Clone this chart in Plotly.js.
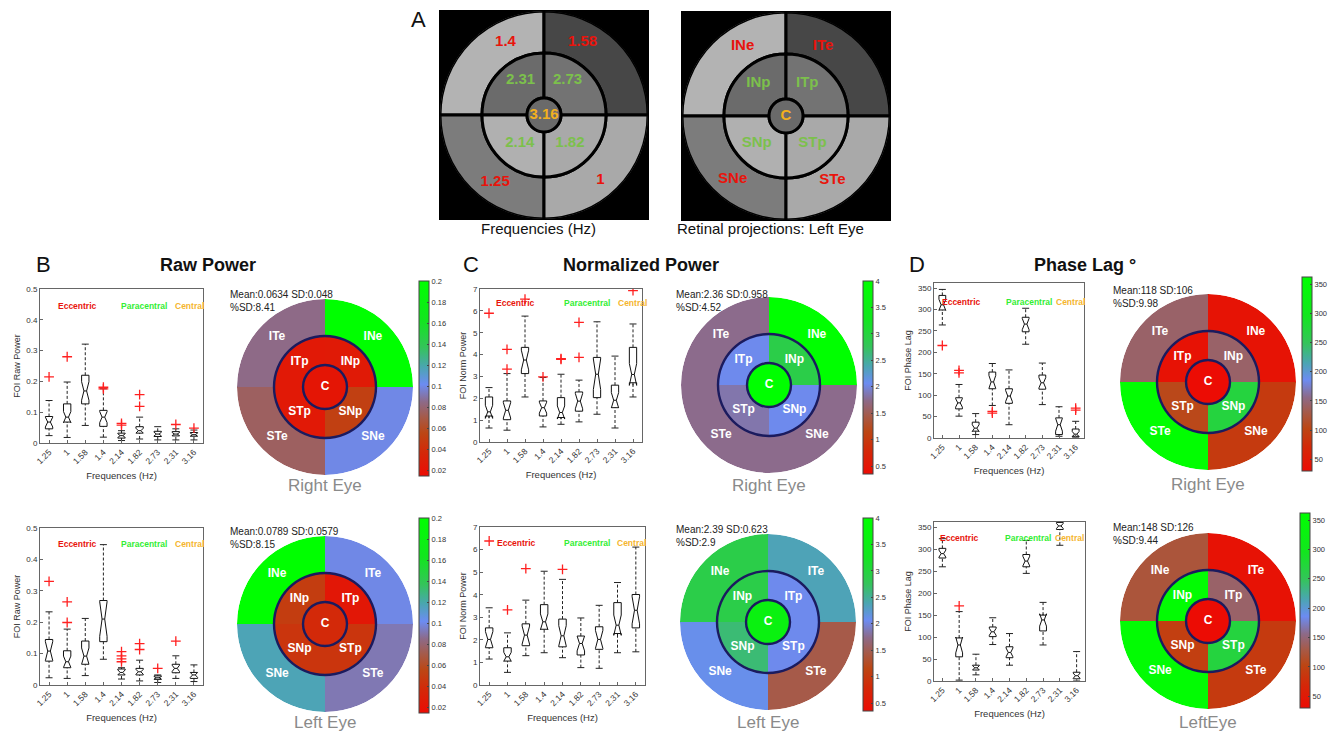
<!DOCTYPE html>
<html><head><meta charset="utf-8">
<script src="https://cdn.plot.ly/plotly-3.0.1.min.js"></script>
<style>html,body{margin:0;padding:0;background:#fff;}#chart{width:1338px;height:733px;}</style>
</head><body><div id="chart"></div>
<script>
// ---------------- DATA ----------------
const cats = ['1.25','1','1.58','1.4','2.14','1.82','2.73','2.31','3.16'];

// Raw power, right eye (top row)
const rawR_lo   = [0.024,0.018,0.057,0.019,0.008,0.013,0.010,0.010,0.010];
const rawR_q1   = [0.046,0.068,0.127,0.054,0.016,0.032,0.021,0.023,0.022];
const rawR_med  = [0.068,0.084,0.169,0.084,0.024,0.040,0.029,0.029,0.027];
const rawR_q3   = [0.086,0.127,0.220,0.106,0.032,0.053,0.038,0.037,0.034];
const rawR_hi   = [0.138,0.198,0.321,0.176,0.040,0.084,0.053,0.046,0.042];
const rawR_notch= [0.016,0.018,0.030,0.018,0.006,0.008,0.006,0.005,0.005];
const rawR_outX = ['1.25','1','1.4','1.4','2.14','2.14','1.82','1.82','2.31','3.16'];
const rawR_outY = [0.215,0.280,0.181,0.176,0.064,0.058,0.119,0.157,0.060,0.048];

// Raw power, left eye (bottom row)
const rawL_lo   = [0.023,0.021,0.030,0.082,0.019,0.013,0.008,0.021,0.011];
const rawL_q1   = [0.076,0.055,0.066,0.138,0.032,0.032,0.018,0.039,0.021];
const rawL_med  = [0.108,0.074,0.092,0.210,0.040,0.042,0.023,0.053,0.032];
const rawL_q3   = [0.145,0.109,0.140,0.269,0.051,0.053,0.029,0.066,0.040];
const rawL_hi   = [0.233,0.178,0.212,0.447,0.055,0.079,0.032,0.093,0.064];
const rawL_notch= [0.030,0.018,0.026,0.055,0.008,0.008,0.004,0.010,0.008];
const rawL_outX = ['1.25','1','1','2.14','2.14','2.14','2.14','1.82','1.82','2.73','2.31'];
const rawL_outY = [0.330,0.265,0.199,0.106,0.093,0.083,0.074,0.132,0.113,0.053,0.140];

// Normalized power, right eye
const normR_lo   = [0.64,0.54,2.06,0.69,0.81,0.92,1.27,0.64,2.06];
const normR_q1   = [1.19,1.02,3.13,1.19,1.12,1.41,2.03,1.57,2.71];
const normR_med  = [1.38,1.45,3.75,1.57,1.35,1.87,3.10,1.91,3.09];
const normR_q3   = [2.06,1.88,4.33,1.88,2.03,2.29,3.87,2.60,4.33];
const normR_hi   = [2.49,3.13,5.76,2.95,3.10,2.83,5.50,3.93,5.40];
const normR_notch= [0.30,0.35,0.45,0.25,0.30,0.35,0.70,0.35,0.50];
const normR_outX = ['1.25','1','1','1.58','1.4','2.14','2.14','1.82','1.82','3.16'];
const normR_outY = [5.89,4.24,3.33,6.54,2.98,3.78,3.81,3.87,5.47,6.93];

// Normalized power, left eye
const normL_lo   = [1.15,0.56,1.30,1.43,1.21,0.77,0.74,1.43,1.47];
const normL_q1   = [1.65,1.06,1.74,2.47,1.69,1.33,1.58,2.28,2.53];
const normL_med  = [2.02,1.25,2.21,2.80,2.18,1.84,2.02,2.65,3.31];
const normL_q3   = [2.53,1.65,2.71,3.56,2.92,2.17,2.58,3.65,4.01];
const normL_hi   = [3.42,2.31,3.76,5.04,4.68,2.97,3.53,4.54,6.11];
const normL_notch= [0.35,0.20,0.40,0.35,0.45,0.33,0.40,0.45,0.60];
const normL_outX = ['1.25','1','1.58','2.14'];
const normL_outY = [6.38,3.33,5.16,5.12];

// Phase lag, right eye
const phR_lo   = [264,51,8,76,31,219,78,4,2];
const phR_q1   = [299,68,16,115,81,248,114,8,4];
const phR_med  = [311,82,23,131,98,266,129,31,9];
const phR_q3   = [333,94,37,154,115,282,147,47,21];
const phR_hi   = [347,125,57,174,159,303,175,73,39];
const phR_notch= [13,10,8,15,13,13,12,15,6];
const phR_outX = ['1.25','1','1','1.4','1.4','3.16','3.16'];
const phR_outY = [216,158,152,58,62,70,65];

// Phase lag, left eye
const phL_lo   = [260,2,14,83,36,245,82,309,0];
const phL_q1   = [280,55,25,101,53,260,114,345,5];
const phL_med  = [290,82,30,112,65,273,139,353,12];
const phL_q3   = [302,98,36,123,78,288,150,361,20];
const phL_hi   = [324,158,61,144,108,320,179,368,67];
const phL_notch= [8,18,5,8,10,11,14,6,6];
const phL_outX = ['1'];
const phL_outY = [171];

// Sector maps: order = eccentric TL, TR, BL, BR, paracentral TL, TR, BL, BR, centre
const sectorsRight = ['ITe','INe','STe','SNe','ITp','INp','STp','SNp','C'];
const sectorsLeft  = ['INe','ITe','SNe','STe','INp','ITp','SNp','STp','C'];
const rawRightMap  = [0.085,0.200,0.076,0.100,0.025,0.026,0.025,0.052,0.022];
const rawLeftMap   = [0.200,0.100,0.117,0.092,0.050,0.024,0.045,0.045,0.038];
const normRightMap = [1.75,4.00,1.75,1.75,2.05,2.90,1.85,2.05,4.00];
const normLeftMap  = [2.90,2.36,2.10,1.45,2.90,2.05,2.65,2.05,3.60];
const phaseRightMap= [143,40,360,90,38,143,106,270,30];
const phaseLeftMap = [123,38,355,90,355,143,95,270,30];

// Panel A
const freqLabels  = ['1.4','1.58','1.25','1','2.31','2.73','2.14','1.82','3.16'];
const retinaLabels= ['INe','ITe','SNe','STe','INp','ITp','SNp','STp','C'];
const stimGrays   = ['#b3b3b3','#474747','#7c7c7c','#a9a9a9','#6b6b6b','#737373','#b0b0b0','#a9a9a9','#6a6a6a'];

// ---------------- HELPERS ----------------
const W=1338,H=733;
const X=p=>p/W, Y=p=>1-p/H;
const FONT='Liberation Sans, Arial, Helvetica, sans-serif';
const RED='#e8140c', GREEN='#33ee33', ORANGE='#f5b52e';
const CS=[[0,'#ec0c04'],[0.12,'#d42808'],[0.22,'#bc4614'],[0.30,'#a65a48'],[0.38,'#8d6a88'],[0.47,'#6c8cf2'],[0.56,'#4aa6b0'],[0.66,'#34c45a'],[0.80,'#12e61e'],[1,'#00ff00']];

const traces=[], annotations=[], shapes=[];
const layout={width:W,height:H,margin:{l:0,r:0,t:0,b:0},paper_bgcolor:'#fff',plot_bgcolor:'#fff',
  showlegend:false,font:{family:FONT,color:'#222'},boxgap:0.42};

function ann(text,px,py,size,opts){
  annotations.push(Object.assign({text:text,x:X(px),y:Y(py),xref:'paper',yref:'paper',showarrow:false,
    xanchor:'center',yanchor:'middle',font:{size:size,family:FONT,color:'#111'}},opts||{}));
}

function boxPanel(n,frame,yr,dtick,ytitle,s,outX,outY,lab){
  const sfx = n===1?'':String(n);
  const xr='x'+sfx, yrf='y'+sfx;
  const [lo,q1,med,q3,hi,notch]=s;
  // dashed whiskers (MATLAB style) built from the stats arrays
  const wx=[], wy=[];
  cats.forEach((c,i)=>{ wx.push(c,c,null,c,c,null); wy.push(q3[i],hi[i],null,lo[i],q1[i],null); });
  traces.push({type:'scatter',mode:'lines',x:wx,y:wy,xaxis:xr,yaxis:yrf,hoverinfo:'skip',
    line:{color:'#222',width:1,dash:'3px,2px'},connectgaps:false});
  // whisker caps
  traces.push({type:'scatter',mode:'markers',x:cats.concat(cats),y:hi.concat(lo),xaxis:xr,yaxis:yrf,hoverinfo:'skip',
    marker:{symbol:'line-ew',size:5,line:{color:'#222',width:1}}});
  // notched boxes
  traces.push({type:'box',x:cats,q1:q1,median:med,q3:q3,lowerfence:q1,upperfence:q3,notchspan:notch,
    notched:true,notchwidth:0.32,whiskerwidth:0,boxpoints:false,line:{color:'#111',width:1},
    fillcolor:'rgba(255,255,255,0)',xaxis:xr,yaxis:yrf,hoverinfo:'skip'});
  traces.push({type:'scatter',mode:'markers',x:outX,y:outY,xaxis:xr,yaxis:yrf,hoverinfo:'skip',
    marker:{symbol:'cross-thin',size:7,line:{color:'#ff2020',width:1.3}}});
  layout['xaxis'+sfx]={domain:[X(frame[0]),X(frame[1])],anchor:yrf,type:'category',categoryorder:'array',categoryarray:cats,
    range:[-0.5,8.5],tickangle:-45,tickfont:{size:8.5,color:'#333'},showline:true,mirror:true,linecolor:'#666',linewidth:1,
    ticks:'inside',ticklen:3,tickcolor:'#666',showgrid:false,zeroline:false,fixedrange:true,
    title:{text:'Frequences (Hz)',font:{size:9.5,color:'#333'},standoff:7}};
  layout['yaxis'+sfx]={domain:[Y(frame[3]),Y(frame[2])],anchor:xr,range:yr,tick0:0,dtick:dtick,
    tickfont:{size:8,color:'#333'},showline:true,mirror:true,linecolor:'#666',linewidth:1,ticks:'inside',ticklen:3,
    tickcolor:'#666',showgrid:false,zeroline:false,fixedrange:true,title:{text:ytitle,font:{size:9,color:'#333'},standoff:4}};
  const words=[['Eccentric',RED],['Paracentral',GREEN],['Central',ORANGE]];
  words.forEach((w,i)=>{
    annotations.push({text:w[0],x:lab[i],y:lab[3],xref:xr+' domain',yref:yrf+' domain',showarrow:false,
      xanchor:'center',yanchor:'middle',font:{size:8.5,family:FONT,color:w[1],weight:'bold'}});
  });
}

function heatPolar(n,center,values,labels,cmin,cmax,tickvals,cb){
  const R=88, rc=22, rp=51;
  const sub='polar'+(n===1?'':n);
  traces.push({type:'barpolar',subplot:sub,theta:[135,45,225,315,135,45,225,315,0],
    width:[90,90,90,90,90,90,90,90,360],base:[rp,rp,rp,rp,rc,rc,rc,rc,0],
    r:[R-rp,R-rp,R-rp,R-rp,rp-rc,rp-rc,rp-rc,rp-rc,rc],hoverinfo:'skip',
    marker:{color:values,colorscale:CS,cmin:cmin,cmax:cmax,line:{width:0},showscale:true,
      colorbar:{x:X(cb[0]),xanchor:'left',xpad:0,ypad:0,y:Y((cb[1]+cb[2])/2),yanchor:'middle',
        len:(cb[2]-cb[1])/H,lenmode:'fraction',thickness:10,thicknessmode:'pixels',outlinewidth:1,outlinecolor:'#444',
        tickvals:tickvals,tickfont:{size:7.5,color:'#333'},ticks:'inside',ticklen:2,tickcolor:'#444'}}});
  traces.push({type:'barpolar',subplot:sub,theta:[45,135,225,315,45,135,225,315],width:[90,90,90,90,90,90,90,90],
    base:[rc-1.2,rc-1.2,rc-1.2,rc-1.2,rp-1.2,rp-1.2,rp-1.2,rp-1.2],r:[2.4,2.4,2.4,2.4,2.4,2.4,2.4,2.4],
    marker:{color:'#1b1b5e',line:{width:0}},hoverinfo:'skip'});
  traces.push({type:'scatterpolar',subplot:sub,mode:'text',r:[69,69,69,69,36,36,36,36,0],
    theta:[134,46,226,314,135,45,225,315,0],text:labels,hoverinfo:'skip',
    textfont:{color:'#fff',size:12,family:FONT,weight:'bold'}});
  layout[sub]={domain:{x:[X(center[0]-R),X(center[0]+R)],y:[Y(center[1]+R),Y(center[1]-R)]},
    bgcolor:'rgba(0,0,0,0)',barmode:'overlay',radialaxis:{visible:false,range:[0,R]},angularaxis:{visible:false}};
}

function grayTarget(n,center,labels,lr,lt){
  const R=104, rc=17, rp=62;
  const sub='polar'+n;
  shapes.push({type:'rect',xref:'paper',yref:'paper',x0:X(center[0]-105),x1:X(center[0]+105),
    y0:Y(center[1]+105),y1:Y(center[1]-105),fillcolor:'#000',line:{width:0},layer:'below'});
  traces.push({type:'barpolar',subplot:sub,theta:[135,45,225,315,135,45,225,315,0],
    width:[90,90,90,90,90,90,90,90,360],base:[rp,rp,rp,rp,rc,rc,rc,rc,0],
    r:[R-rp,R-rp,R-rp,R-rp,rp-rc,rp-rc,rp-rc,rp-rc,rc],hoverinfo:'skip',
    marker:{color:stimGrays,line:{color:'#000',width:3}}});
  traces.push({type:'scatterpolar',subplot:sub,mode:'text',r:lr,theta:lt,text:labels,hoverinfo:'skip',
    textfont:{color:[RED,RED,RED,RED,'#7cc04c','#7cc04c','#7cc04c','#7cc04c','#f2b01e'],size:15,family:FONT,weight:'bold'}});
  layout[sub]={domain:{x:[X(center[0]-R),X(center[0]+R)],y:[Y(center[1]+R),Y(center[1]-R)]},
    bgcolor:'rgba(0,0,0,0)',barmode:'overlay',radialaxis:{visible:false,range:[0,R]},angularaxis:{visible:false}};
}

// ---------------- BUILD ----------------
boxPanel(1,[40,203,289,443],[0,0.5],0.1,'FOI Raw Power',[rawR_lo,rawR_q1,rawR_med,rawR_q3,rawR_hi,rawR_notch],rawR_outX,rawR_outY,[0.23,0.64,0.92,0.89]);
boxPanel(2,[40,203,528,685],[0,0.5],0.1,'FOI Raw Power',[rawL_lo,rawL_q1,rawL_med,rawL_q3,rawL_hi,rawL_notch],rawL_outX,rawL_outY,[0.23,0.64,0.92,0.9]);
boxPanel(3,[480,642,289,442],[0,7],1,'FOI Norm Power',[normR_lo,normR_q1,normR_med,normR_q3,normR_hi,normR_notch],normR_outX,normR_outY,[0.22,0.66,0.94,0.91]);
boxPanel(4,[480,645,527,685],[0,7],1,'FOI Norm Power',[normL_lo,normL_q1,normL_med,normL_q3,normL_hi,normL_notch],normL_outX,normL_outY,[0.22,0.65,0.92,0.9]);
boxPanel(5,[934,1084,283,438],[0,362],50,'FOI Phase Lag',[phR_lo,phR_q1,phR_med,phR_q3,phR_hi,phR_notch],phR_outX,phR_outY,[0.18,0.63,0.91,0.88]);
boxPanel(6,[934,1085,522,681],[0,362],50,'FOI Phase Lag',[phL_lo,phL_q1,phL_med,phL_q3,phL_hi,phL_notch],phL_outX,phL_outY,[0.17,0.62,0.9,0.9]);

const rawTicks=[0.02,0.04,0.06,0.08,0.1,0.12,0.14,0.16,0.18,0.2];
const normTicks=[0.5,1,1.5,2,2.5,3,3.5,4];
const phTicks=[50,100,150,200,250,300,350];
heatPolar(1,[325,387],rawRightMap,sectorsRight,0.015,0.2,rawTicks,[419,281,476]);
heatPolar(2,[325,624],rawLeftMap,sectorsLeft,0.015,0.2,rawTicks,[419,518,713]);
heatPolar(3,[769,385],normRightMap,sectorsRight,0.35,4,normTicks,[863,281,474]);
heatPolar(4,[768,622],normLeftMap,sectorsLeft,0.35,4,normTicks,[863,518,711]);
heatPolar(5,[1208,382],phaseRightMap,sectorsRight,30,362,phTicks,[1302,277,471]);
heatPolar(6,[1208,621],phaseLeftMap,sectorsLeft,30,362,phTicks,[1300,513,708]);

grayTarget(7,[544,115],freqLabels,[82,82,83,86,42,42,37,38,0],[118,62,234,311,124,56,229,313,0]);
grayTarget(8,[786,116],retinaLabels,[82,79,83,79,43,39,40,38,0],[122,62,230,306,130,57,223,314,0]);

ann('A',418,20,22);
ann('Frequencies (Hz)',538,229,15);
ann('Retinal projections: Left Eye',770,229,15);
ann('B',43,265,22); ann('C',471,265,22); ann('D',917,265,22);
ann('Raw Power',208,265,18,{font:{size:18,family:FONT,color:'#111',weight:'bold'}});
ann('Normalized Power',641,265,18,{font:{size:18,family:FONT,color:'#111',weight:'bold'}});
ann('Phase Lag °',1085,265,18,{font:{size:18,family:FONT,color:'#111',weight:'bold'}});
const meanOpts={xanchor:'left',yanchor:'top',align:'left',font:{size:10,family:FONT,color:'#222'}};
ann('Mean:0.0634 SD:0.048<br>%SD:8.41',228,287,10,meanOpts);
ann('Mean:0.0789 SD:0.0579<br>%SD:8.15',228,524,10,meanOpts);
ann('Mean:2.36 SD:0.958<br>%SD:4.52',674,287,10,meanOpts);
ann('Mean:2.39 SD:0.623<br>%SD:2.9',674,522,10,meanOpts);
ann('Mean:118 SD:106<br>%SD:9.98',1111,283,10,meanOpts);
ann('Mean:148 SD:126<br>%SD:9.44',1111,520,10,meanOpts);
const eyeOpts={font:{size:17,family:FONT,color:'#8a8a8a'}};
ann('Right Eye',325,485,17,eyeOpts);
ann('Right Eye',769,485,17,eyeOpts);
ann('Right Eye',1208,484,17,eyeOpts);
ann('Left Eye',325,722,17,eyeOpts);
ann('Left Eye',768,722,17,eyeOpts);
ann('LeftEye',1208,722,17,eyeOpts);

layout.annotations=annotations;
layout.shapes=shapes;
Plotly.newPlot('chart',traces,layout,{staticPlot:true,displayModeBar:false});
</script></body></html>
